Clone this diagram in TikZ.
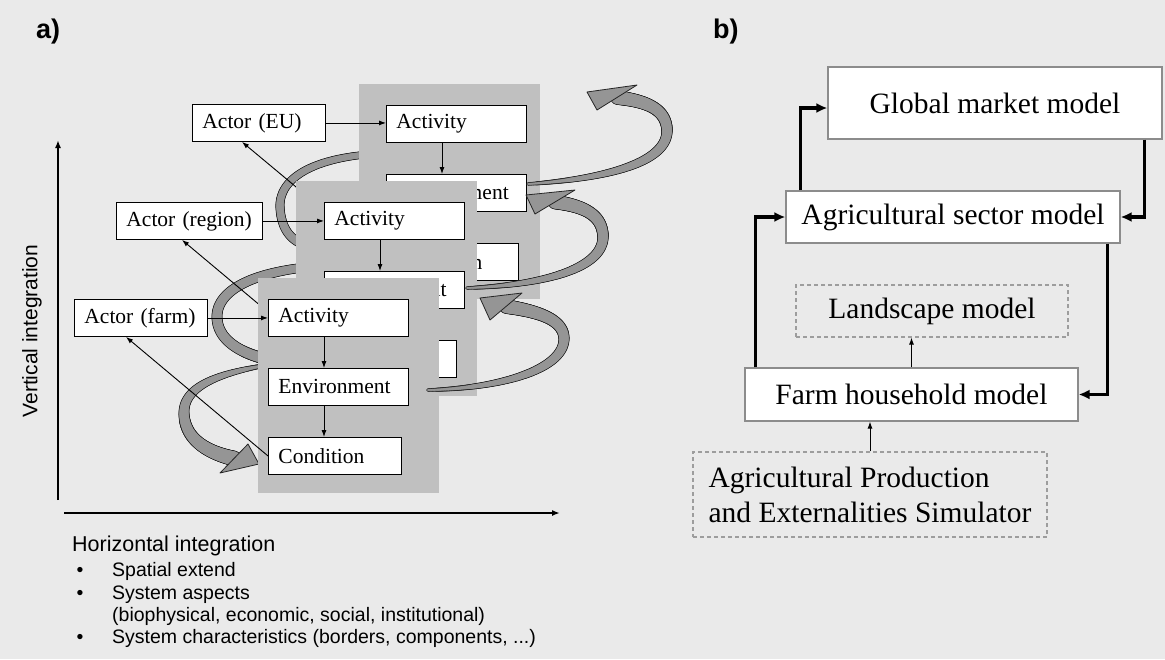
\documentclass[tikz,border=0pt]{standalone}
\usepackage{fontspec}
\setmainfont{Liberation Serif}
\newfontfamily\arialfont{Liberation Sans}
\usepackage{tikz}
\usetikzlibrary{positioning, arrows.meta, calc, decorations.markings}

\definecolor{bggray}{HTML}{EAEAEA}
\definecolor{panelgray}{HTML}{C0C0C0}
\definecolor{loopfill}{HTML}{959595}
\definecolor{loopedge}{HTML}{262626}
\definecolor{boxedge}{HTML}{8C8C8C}

\tikzset{
	panel/.style={fill=panelgray, draw=none},
	lbox/.style={draw=black, fill=white, line width=0.9pt, anchor=north west,
		minimum height=37pt, inner xsep=10pt, inner ysep=2pt, text width=#1,
		align=left, font=\fontsize{21.5}{24}\selectfont},
	lbox/.default=120pt,
	rbox/.style={draw=boxedge, fill=white, line width=1.2pt, inner sep=2pt,
		font=\fontsize{29.5}{35}\selectfont},
	dbox/.style={rbox, fill=none, draw=boxedge!85, dashed, dash pattern=on 4pt off 3pt},
	thin arrow/.style={line width=0.9pt, -{Latex[length=7pt,width=5pt]}},
	thick arrow/.style={line width=3.5pt, -{Latex[length=11pt,width=10pt]}},
	axis arrow/.style={line width=2.2pt, -{Latex[length=8pt,width=6pt]}},
	sanslabel/.style={anchor=base west, inner sep=0pt, font=\arialfont\fontsize{19.5}{22}\selectfont},
	bulletmark/.style={anchor=base, inner sep=0pt, font=\arialfont\fontsize{19.5}{22}\selectfont},
	loop band/.style n args={2}{
		postaction={decorate, decoration={markings,
			mark=between positions 0 and 1 step 0.7pt with {
				\pgfmathsetmacro{\bandr}{#1+(#2-#1)*\pgfkeysvalueof{/pgf/decoration/mark info/distance from start}/\pgfdecoratedpathlength+0.8}
				\fill[loopedge] (0,0) circle[radius=\bandr pt];}}},
		postaction={decorate, decoration={markings,
			mark=between positions 0 and 1 step 0.7pt with {
				\pgfmathsetmacro{\bandr}{#1+(#2-#1)*\pgfkeysvalueof{/pgf/decoration/mark info/distance from start}/\pgfdecoratedpathlength}
				\fill[loopfill] (0,0) circle[radius=\bandr pt];}}}},
	loop head/.style={fill=loopfill, draw=loopedge, line width=0.8pt, line join=round}
}

\begin{document}
\begin{tikzpicture}[x=1pt, y=-1pt]

		\useasboundingbox (0,0) rectangle (1165,659);
		\fill[bggray] (0,0) rectangle (1165,659);

		%Titles
		\node (titleA) at (36,38) [anchor=base west, inner sep=0pt, font=\arialfont\bfseries\fontsize{27}{30}\selectfont]{a)};
		\node (titleB) at (713,38) [anchor=base west, inner sep=0pt, font=\arialfont\bfseries\fontsize{27}{30}\selectfont]{b)};

		%Axes
		\coordinate (vbot) at (58,500);
		\coordinate (vtop) at (58,140);
		\coordinate (hleft) at (64,513);
		\coordinate (hright) at (560,513);
		\draw[axis arrow] (vbot) -- (vtop);
		\draw[axis arrow] (hleft) -- (hright);
		\node (vertLabel) at (32,331) [rotate=90, font=\arialfont\fontsize{21}{24}\selectfont]{Vertical integration};

		%Horizontal integration list
		\node (horLabel) at (72,551) [sanslabel, font=\arialfont\fontsize{21.5}{24}\selectfont]{Horizontal integration};
		\node (bulletOne) at (80,576) [bulletmark]{•};
		\node (itemOne) at (112,576) [sanslabel]{Spatial extend};
		\node (bulletTwo) at (80,599) [bulletmark]{•};
		\node (itemTwo) at (112,599) [sanslabel]{System aspects};
		\node (itemTwoMore) at (112,621) [sanslabel]{(biophysical, economic, social, institutional)};
		\node (bulletThree) at (80,643) [bulletmark]{•};
		\node (itemThree) at (112,643) [sanslabel]{System characteristics (borders, components, ...)};

		%Loop behind the EU level
		\path[loop band={3}{4}] (362,155) .. controls (300,162) and (279,185) .. (280,207) .. controls (281,228) and (290,238) .. (300,243);

		%EU level
		\fill[panel] (359,84) rectangle (540,299);
		\node (actEU) at (386,105) [lbox]{Activity};
		\node (envEU) at (386,174) [lbox]{Environment};
		\node (condEU) at (386,243) [lbox=112pt]{Condition};
		\node (actorEU) at (192,104) [lbox=113pt]{Actor (EU)};
		\draw[thin arrow] (actorEU.east) -- (actorEU.east -| actEU.west);
		\draw[thin arrow] ([xshift=56pt]actEU.south west) -- ([xshift=56pt]envEU.north west);
		\draw[thin arrow] ([xshift=56pt]envEU.south west) -- ([xshift=56pt]condEU.north west);
		\draw[thin arrow] (condEU.west) -- ([xshift=50pt]actorEU.south west);

		%Loop behind the region level
		\path[loop band={4}{5}] (300,268) .. controls (240,276) and (216,296) .. (217,318) .. controls (218,340) and (240,352) .. (262,358);

		%Region level
		\fill[panel] (295.5,181) rectangle (477,396);
		\node (actRegion) at (324,202) [lbox]{Activity};
		\node (envRegion) at (324,271) [lbox]{Environment};
		\node (condRegion) at (324,340) [lbox=112pt]{Condition};
		\node (actorRegion) at (116,202) [lbox=126pt]{Actor (region)};
		\draw[thin arrow] (actorRegion.east) -- (actorRegion.east -| actRegion.west);
		\draw[thin arrow] ([xshift=56pt]actRegion.south west) -- ([xshift=56pt]envRegion.north west);
		\draw[thin arrow] ([xshift=56pt]envRegion.south west) -- ([xshift=56pt]condRegion.north west);
		\draw[thin arrow] (condRegion.west) -- ([xshift=66pt]actorRegion.south west);

		%Loop down to the farm condition
		\path[loop band={1.5}{7}] (262,366) .. controls (205,376) and (183,392) .. (184,414) .. controls (185,438) and (205,452) .. (234,458.5);
		\draw[loop head] (259,464) -- (248,444) -- (220,473) -- cycle;

		%Farm level
		\fill[panel] (258,278) rectangle (439,493);
		\node (actFarm) at (268,299) [lbox]{Activity};
		\node (envFarm) at (268,368) [lbox]{Environment};
		\node (condFarm) at (268,437) [lbox=113pt]{Condition};
		\node (actorFarm) at (74,299) [lbox=113pt]{Actor (farm)};
		\draw[thin arrow] (actorFarm.east) -- (actorFarm.east -| actFarm.west);
		\draw[thin arrow] ([xshift=56pt]actFarm.south west) -- ([xshift=56pt]envFarm.north west);
		\draw[thin arrow] ([xshift=56pt]envFarm.south west) -- ([xshift=56pt]condFarm.north west);
		\draw[thin arrow] (condFarm.west) -- ([xshift=52pt]actorFarm.south west);

		%Loops up on the right side
		\path[loop band={1}{6.5}] (428,390) .. controls (505,388) and (565,368) .. (564,338) .. controls (563,318) and (535,311) .. (506,306.5);
		\draw[loop head] (480,298) -- (522,293) -- (490,320) -- cycle;
		\path[loop band={1}{6.5}] (467,288) .. controls (545,285) and (604,268) .. (603,236) .. controls (602,214) and (583,206) .. (555,202);
		\draw[loop head] (526,195) -- (575,190) -- (535,214) -- cycle;
		\path[loop band={1}{6.5}] (528,184) .. controls (615,178) and (668,160) .. (667,130) .. controls (666,108) and (645,101) .. (617,97.5);
		\draw[loop head] (587,92) -- (637,85) -- (597,110) -- cycle;

		%%%%%%%%%%%%%%%%%%%%%%%%%%%%%%%%%%%%%
		%Model chain
		\node (global) at (995,103) [rbox, minimum width=334pt, minimum height=72pt]{Global market model};
		\node (sector) at (953,217) [rbox, minimum width=334pt, minimum height=52pt]{Agricultural sector model};
		\node (landscape) at (932,311) [dbox, minimum width=272pt, minimum height=52pt]{Landscape model};
		\node (farm) at (911.5,394.5) [rbox, minimum width=333pt, minimum height=53pt]{Farm household model};
		\node (apes) at (870,494.5) [dbox, minimum width=354pt, minimum height=85pt, align=left]{Agricultural Production\\and Externalities Simulator};

		%Links between the models
		\draw[thick arrow] ([xshift=15pt]sector.north west) |- ([yshift=-5pt]global.west);
		\draw[thick arrow] ([xshift=-18pt]global.south east) |- (sector.east);
		\draw[thick arrow] ([xshift=11pt]farm.north west) |- (sector.west);
		\draw[thick arrow] ([xshift=-13pt]sector.south east) |- (farm.east);
		\draw[thin arrow] (farm.north) -- (farm.north |- landscape.south);
		\draw[thin arrow] (apes.north) -- (apes.north |- farm.south);

\end{tikzpicture}
\end{document}
